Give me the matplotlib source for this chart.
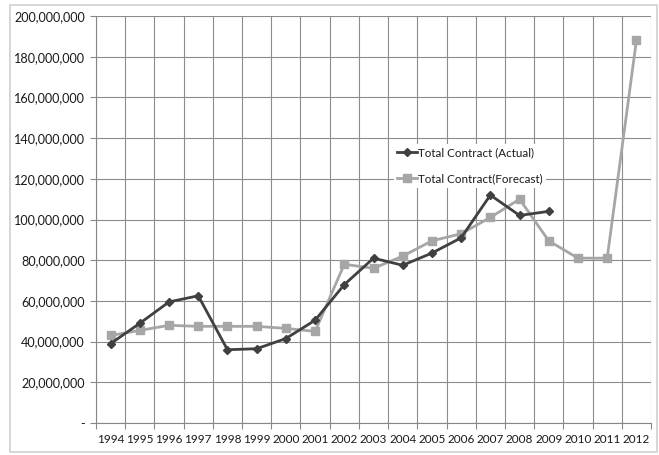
import matplotlib.pyplot as plt
from matplotlib.patches import Rectangle
from matplotlib.ticker import FixedLocator, FuncFormatter, NullFormatter

plt.rcParams["font.family"] = ["Lato", "DejaVu Sans"]

years = [str(y) for y in range(1994, 2013)]
actual = [39.0e6, 49.0e6, 59.5e6, 62.5e6, 36.0e6, 36.5e6, 41.5e6, 50.5e6,
          68.0e6, 81.0e6, 77.5e6, 83.5e6, 91.0e6, 112.0e6, 102.0e6, 104.0e6]
forecast = [43.0e6, 45.5e6, 48.0e6, 47.5e6, 47.5e6, 47.5e6, 46.5e6, 45.0e6,
            78.0e6, 76.0e6, 82.0e6, 89.5e6, 93.0e6, 101.0e6, 110.0e6, 89.5e6,
            81.0e6, 81.0e6, 188.0e6]

fig = plt.figure(figsize=(6.59, 4.55), dpi=100)
ax = fig.add_axes([96 / 659, 1 - 423 / 455, (651 - 96) / 659, (423 - 16) / 455])

# outer chart frame
fig.patches.append(Rectangle((10 / 659, 1 - 452 / 455), 647 / 659, 447 / 455,
                             transform=fig.transFigure, fill=False,
                             edgecolor="#d0d0d0", linewidth=1.2))

x_act = list(range(len(actual)))
x_fc = list(range(len(forecast)))
ax.plot(x_act, actual, color="#404040", lw=2.0, marker="D", ms=4.5,
        label="Total Contract (Actual)", zorder=4)
ax.plot(x_fc, forecast, color="#a6a6a6", lw=2.0, marker="s", ms=6,
        label="Total Contract(Forecast)", zorder=3)

ax.set_xlim(-0.5, len(years) - 0.5)
ax.set_ylim(0, 200e6)
ax.set_yticks(range(0, 200000001, 20000000))
ax.yaxis.set_major_formatter(FuncFormatter(lambda v, p: "-" if v == 0 else f"{v:,.0f}"))

ax.xaxis.set_major_locator(FixedLocator([i - 0.5 for i in range(len(years) + 1)]))
ax.xaxis.set_major_formatter(NullFormatter())
ax.xaxis.set_minor_locator(FixedLocator(range(len(years))))
ax.set_xticklabels(years, minor=True)
ax.tick_params(axis="x", which="minor", length=0, pad=8, labelsize=8.5, labelcolor="#1a1a1a")
ax.tick_params(axis="x", which="major", length=4, color="#878787")
ax.tick_params(axis="y", length=4, color="#878787", labelsize=9.1, labelcolor="#1a1a1a", pad=4)

ax.grid(True, which="major", color="#8c8c8c", lw=0.8)
ax.set_axisbelow(True)
for side in ["top", "right"]:
    ax.spines[side].set_visible(False)
for side in ["left", "bottom"]:
    ax.spines[side].set_color("#878787")
    ax.spines[side].set_linewidth(0.8)

leg = ax.legend(loc="upper left", bbox_to_anchor=(388 / 659, 1 - 138 / 455),
                bbox_transform=fig.transFigure, frameon=True, fancybox=False,
                edgecolor="none", facecolor="white", framealpha=1,
                fontsize=8.4, labelspacing=1.3, handlelength=1.7,
                handletextpad=0.1, borderpad=0.3)
for t in leg.get_texts():
    t.set_color("#1a1a1a")

fig.savefig("out.png", dpi=100)
